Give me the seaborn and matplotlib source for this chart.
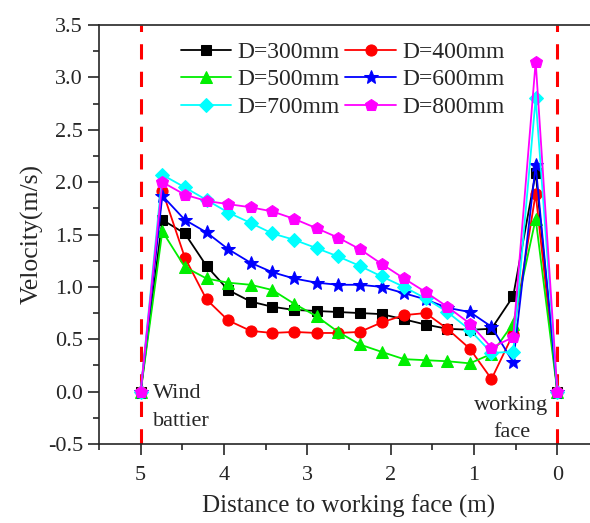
import numpy as np
import pandas as pd
import seaborn as sns
import matplotlib.pyplot as plt
from matplotlib.ticker import MultipleLocator

# Distance to working face (m), from wind battier to face
distance = [5.0, 4.74, 4.47, 4.21, 3.95, 3.68, 3.42, 3.16, 2.89, 2.63,
            2.37, 2.11, 1.84, 1.58, 1.32, 1.05, 0.79, 0.53, 0.26, 0.0]

# Velocity (m/s) for each duct diameter
v300 = [0, 1.64, 1.51, 1.20, 0.97, 0.86, 0.81, 0.78, 0.77, 0.76,
        0.75, 0.74, 0.69, 0.64, 0.60, 0.59, 0.60, 0.91, 2.09, 0]
v400 = [0, 1.92, 1.28, 0.88, 0.68, 0.58, 0.56, 0.57, 0.56, 0.56,
        0.57, 0.66, 0.73, 0.75, 0.60, 0.41, 0.12, 0.55, 1.89, 0]
v500 = [0, 1.53, 1.19, 1.08, 1.04, 1.02, 0.97, 0.84, 0.72, 0.57,
        0.45, 0.38, 0.31, 0.30, 0.29, 0.27, 0.36, 0.65, 1.65, 0]
v600 = [0, 1.87, 1.64, 1.52, 1.36, 1.23, 1.14, 1.08, 1.04, 1.02,
        1.02, 1.00, 0.94, 0.88, 0.80, 0.76, 0.62, 0.28, 2.16, 0]
v700 = [0, 2.07, 1.95, 1.83, 1.71, 1.61, 1.51, 1.45, 1.37, 1.29,
        1.20, 1.10, 1.00, 0.89, 0.76, 0.59, 0.37, 0.38, 2.80, 0]
v800 = [0, 2.00, 1.88, 1.82, 1.79, 1.76, 1.72, 1.65, 1.56, 1.47,
        1.36, 1.22, 1.08, 0.95, 0.81, 0.65, 0.42, 0.52, 3.15, 0]

labels = ["D=300mm", "D=400mm", "D=500mm", "D=600mm", "D=700mm", "D=800mm"]
colors = ["black", "red", "#00ee00", "blue", "cyan", "magenta"]
marks = ["s", "o", "^", "*", "D", "p"]
msizes = [7, 8, 8, 10, 7, 9]

series = [v300, v400, v500, v600, v700, v800]
frames = []
for lab, vals in zip(labels, series):
    frames.append(pd.DataFrame({"x": distance, "v": vals, "D": lab}))
df = pd.concat(frames, ignore_index=True)

sns.set_style("ticks")
plt.rcParams["font.family"] = ["Liberation Serif", "DejaVu Serif"]

fig = plt.figure(figsize=(5.9, 5.23), dpi=100)
ax = fig.add_axes([99 / 590, 1 - 444 / 523, 500 / 590, 419 / 523])

for lab, c, m, s in zip(labels, colors, marks, msizes):
    sns.lineplot(data=df[df["D"] == lab], x="x", y="v", color=c, marker=m,
                 markersize=s, markeredgecolor=c, linewidth=1.3, sort=False,
                 label=lab, ax=ax)

# boundary lines
for xv in [5, 0]:
    ax.axvline(xv, color="red", linestyle=(0, (5, 4)), linewidth=2.2, zorder=0)

ax.set_xlim(5.5, -0.5)
ax.set_ylim(-0.5, 3.5)
ax.xaxis.set_major_locator(MultipleLocator(1))
ax.xaxis.set_minor_locator(MultipleLocator(0.5))
ax.yaxis.set_major_locator(MultipleLocator(0.5))
ax.yaxis.set_minor_locator(MultipleLocator(0.25))
ax.yaxis.set_major_formatter(plt.FormatStrFormatter("%.1f"))
ax.tick_params(axis="both", which="major", direction="out", length=8, width=1.2, labelsize=16)
ax.tick_params(axis="x", which="major", pad=8)
ax.tick_params(axis="both", which="minor", direction="out", length=4.5, width=1.2)
for sp in ax.spines.values():
    sp.set_linewidth(1.2)

ax.set_xlabel("Distance to working face (m)", fontsize=18, labelpad=7)
ax.set_ylabel("Velocity(m/s)", fontsize=18.5, labelpad=3)

ax.text(4.85, -0.15, "Wind\nbattier", fontsize=16, ha="left", va="center", linespacing=1.6)
ax.text(0.55, -0.26, "working\nface", fontsize=16, ha="center", va="center",
        multialignment="center", linespacing=1.6)

# legend filled row by row like the original
handles, labs = ax.get_legend_handles_labels()
order = [0, 2, 4, 1, 3, 5]
ax.legend([handles[i] for i in order], [labs[i] for i in order], ncol=2,
          frameon=False, fontsize=17, loc="upper left",
          bbox_to_anchor=(0.13, 1.0), handlelength=2.15, handletextpad=0.25,
          columnspacing=0.25, labelspacing=0.25, borderaxespad=0.3)

fig.savefig("out.png", dpi=100)
